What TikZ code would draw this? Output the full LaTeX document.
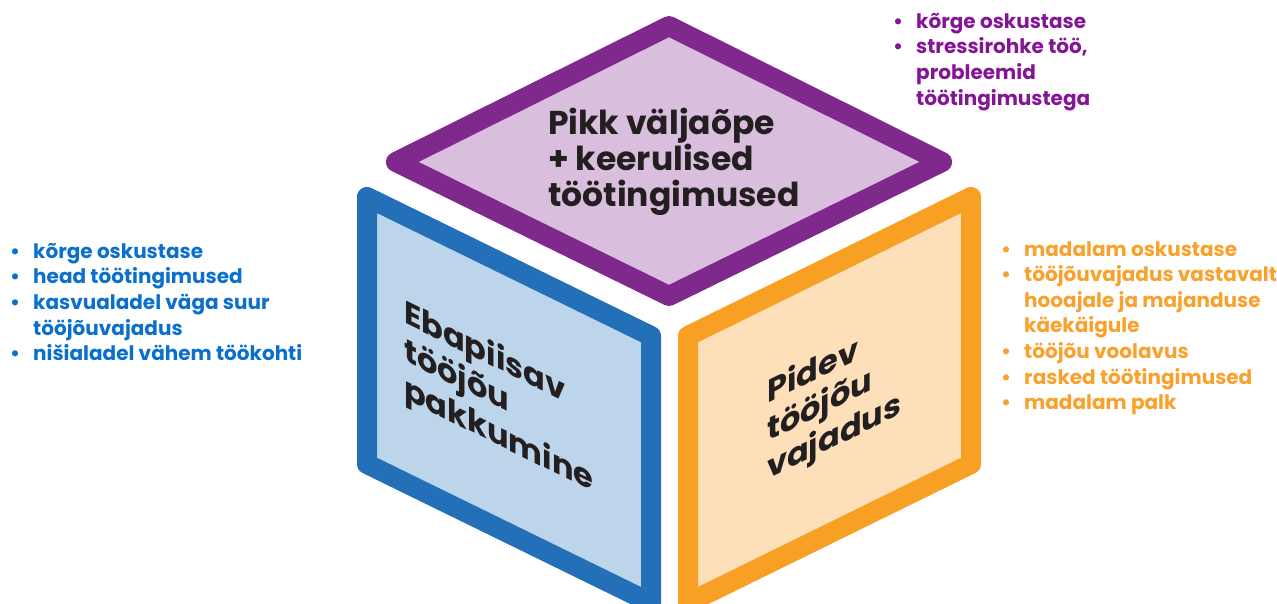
\documentclass[tikz,border=0pt]{standalone}
\usepackage{fontspec}
\setmainfont{Poppins}

\definecolor{lilla}{RGB}{127,41,140}
\definecolor{lillahele}{RGB}{217,190,221}
\definecolor{sinine}{RGB}{35,111,184}
\definecolor{sininehele}{RGB}{189,213,235}
\definecolor{oranz}{RGB}{247,160,36}
\definecolor{oranzhele}{RGB}{253,223,186}
\definecolor{sininetekst}{RGB}{10,112,204}
\definecolor{lillatekst}{RGB}{132,22,150}
\definecolor{oranztekst}{RGB}{249,161,44}
\definecolor{tume}{RGB}{35,31,32}

\newcommand{\punkt}[1]{\makebox[23pt][l]{\textbullet}#1}
\newcommand{\jatk}[1]{\hspace*{23pt}#1}

\begin{document}
\begin{tikzpicture}[x=1pt,y=-1pt,
    tahk/.style={line width=20pt, line join=round},
    pealkiri/.style={font=\fontsize{33}{36}\selectfont\bfseries, text=tume,
      align=left, inner sep=0pt, anchor=north west},
    kaldkiri/.style={pealkiri, font=\fontsize{32}{38}\selectfont\bfseries},
    loend/.style={font=\fontsize{20}{25.6}\selectfont\bfseries,
      align=left, inner sep=0pt, anchor=north west}]

    \useasboundingbox (0,0) rectangle (1277,604);

    % Ülemine tahk
    \coordinate (U1) at (669,26);
    \coordinate (U2) at (942,162);
    \coordinate (U3) at (669,296);
    \coordinate (U4) at (396,162);
    \draw[tahk, draw=lilla, fill=lillahele] (U1) -- (U2) -- (U3) -- (U4) -- cycle;

    % Vasak tahk
    \coordinate (V1) at (367,197);
    \coordinate (V2) at (651,336);
    \coordinate (V3) at (651,603);
    \coordinate (V4) at (367,464);
    \draw[tahk, draw=sinine, fill=sininehele] (V1) -- (V2) -- (V3) -- (V4) -- cycle;

    % Parem tahk
    \coordinate (P1) at (688,336);
    \coordinate (P2) at (971,197);
    \coordinate (P3) at (971,464);
    \coordinate (P4) at (688,603);
    \draw[tahk, draw=oranz, fill=oranzhele] (P1) -- (P2) -- (P3) -- (P4) -- cycle;

    % Pealkirjad tahkudel
    \node[pealkiri] (valjaope) at (548,108)
        {Pikk väljaõpe\\+ keerulised\\töötingimused};
    \node[kaldkiri, yslant=-0.49] (pakkumine) at (404,297)
        {Ebapiisav\\tööjõu\\pakkumine};
    \node[kaldkiri, yslant=0.49] (vajadus) at (767,378)
        {Pidev\\tööjõu\\vajadus};

    % Loendid
    \node[loend, text=sininetekst] (sinineloend) at (10,243)
        {\punkt{kõrge oskustase}\\
         \punkt{head töötingimused}\\
         \punkt{kasvualadel väga suur}\\
         \jatk{tööjõuvajadus}\\
         \punkt{nišialadel vähem töökohti}};

    \node[loend, text=lillatekst] (lillaloend) at (893,13)
        {\punkt{kõrge oskustase}\\
         \punkt{stressirohke töö,}\\
         \jatk{probleemid}\\
         \jatk{töötingimustega}};

    \node[loend, text=oranztekst] (oranzloend) at (1001,241)
        {\punkt{madalam oskustase}\\
         \punkt{tööjõuvajadus vastavalt}\\
         \jatk{hooajale ja majanduse}\\
         \jatk{käekäigule}\\
         \punkt{tööjõu voolavus}\\
         \punkt{rasked töötingimused}\\
         \punkt{madalam palk}};

\end{tikzpicture}
\end{document}
